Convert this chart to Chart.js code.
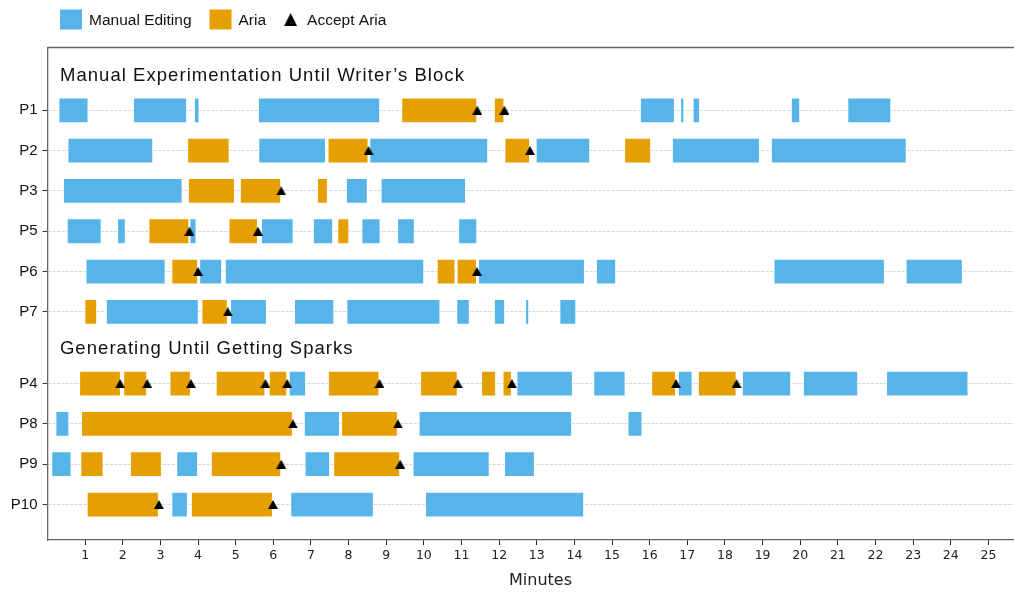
<!DOCTYPE html>
<html>
<head>
<meta charset="utf-8">
<title>Aria usage timeline</title>
<script src="https://cdn.jsdelivr.net/npm/chart.js@4.4.1/dist/chart.umd.min.js"></script>
<style>
  html, body { margin: 0; padding: 0; background: #fff; }
  canvas { display: block; }
</style>
</head>
<body>
<canvas id="timeline" width="1014" height="592"></canvas>
<script>
/* ---- data (minutes) ---- */
const rows = ['P1', 'P2', 'P3', 'P5', 'P6', 'P7', 'P4', 'P8', 'P9', 'P10'];
const rowGroup = [0, 0, 0, 0, 0, 0, 1, 1, 1, 1];
const groupHeadings = ['Manual Experimentation Until Writer\u2019s Block', 'Generating Until Getting Sparks'];
const xTicks = [1, 2, 3, 4, 5, 6, 7, 8, 9, 10, 11, 12, 13, 14, 15, 16, 17, 18, 19, 20, 21, 22, 23, 24, 25];

// one list of [start, end] segments per row, same order as rows
const manualEditing = [
  [[0.29, 1.09], [2.27, 3.71], [3.89, 4.04], [5.59, 8.84], [15.74, 16.67], [16.81, 16.92], [17.14, 17.34], [19.75, 20.00], [21.25, 22.42]],
  [[0.53, 2.81], [5.60, 7.40], [8.55, 11.71], [12.97, 14.42], [16.59, 18.93], [19.22, 22.83]],
  [[0.41, 3.59], [7.93, 8.51], [8.85, 11.12]],
  [[0.51, 1.44], [1.85, 2.08], [3.77, 3.96], [5.67, 6.54], [7.05, 7.59], [8.34, 8.85], [9.29, 9.76], [10.91, 11.42]],
  [[1.01, 3.14], [4.03, 4.64], [4.71, 10.01], [11.44, 14.28], [14.57, 15.11], [19.29, 22.25], [22.80, 24.32]],
  [[1.55, 4.02], [4.85, 5.83], [6.55, 7.62], [7.94, 10.44], [10.86, 11.22], [11.86, 12.16], [12.69, 12.80], [13.60, 14.05]],
  [[6.41, 6.87], [12.46, 13.96], [14.50, 15.36], [16.75, 17.14], [18.45, 19.76], [20.07, 21.54], [22.28, 24.47]],
  [[0.21, 0.58], [6.81, 7.77], [9.86, 13.94], [15.41, 15.81]],
  [[0.10, 0.64], [3.42, 4.00], [6.83, 7.51], [9.70, 11.75], [12.13, 12.95]],
  [[3.29, 3.73], [6.45, 8.67], [10.03, 14.26]]
];

const ariaUse = [
  [[9.40, 11.42], [11.86, 12.14]],
  [[3.71, 4.84], [7.44, 8.53], [12.14, 12.82], [15.32, 16.04]],
  [[3.73, 4.98], [5.11, 6.21], [7.16, 7.45]],
  [[2.68, 3.77], [4.81, 5.59], [7.70, 8.02]],
  [[3.29, 4.00], [10.34, 10.84], [10.87, 11.41]],
  [[0.98, 1.32], [4.09, 4.79]],
  [[0.84, 1.95], [2.01, 2.65], [3.24, 3.81], [4.47, 5.79], [5.88, 6.37], [7.45, 8.82], [9.90, 10.90], [11.52, 11.92], [12.09, 12.34], [16.04, 16.70], [17.28, 18.31]],
  [[0.89, 6.52], [7.80, 9.31]],
  [[0.87, 1.49], [2.19, 3.04], [4.34, 6.21], [7.59, 9.37]],
  [[1.04, 2.96], [3.81, 5.99]]
];

const acceptAria = [
  [11.42, 12.14],
  [8.53, 12.82],
  [6.21],
  [3.77, 5.59],
  [4.00, 11.41],
  [4.79],
  [1.93, 2.65, 3.81, 5.79, 6.37, 8.82, 10.90, 12.34, 16.70, 18.31],
  [6.52, 9.31],
  [6.21, 9.37],
  [2.96, 5.99]
];

/* ---- layout ---- */
const GROUP_GAP = 0.78;      // extra space (in rows) before the second group
const HEADING_LIFT = 0.73;   // heading baseline above first row of its group
const HEADING_X = 0.33;      // minutes
const X_MAX = 25.68;         // visible right edge (the plot is cropped there)
const X_LABEL_AT = 13.1;     // centre of the full, uncropped axis
const BLUE = '#56B4E9';
const ORANGE = '#E69F00';

const rowPos = i => i + rowGroup[i] * GROUP_GAP;

function segmentsToBars(list) {
  const out = [];
  list.forEach((segs, i) => segs.forEach(s => out.push({ x: s, y: rowPos(i) })));
  return out;
}
function marksToPoints(list) {
  const out = [];
  list.forEach((xs, i) => xs.forEach(x => out.push({ x: x, y: rowPos(i) })));
  return out;
}

/* triangle marker as a small canvas so it stays centred on the row */
function triangle(w, h) {
  const c = document.createElement('canvas');
  c.width = w; c.height = h;
  const g = c.getContext('2d');
  g.fillStyle = '#000';
  g.beginPath();
  g.moveTo(w / 2, 0);
  g.lineTo(w, h);
  g.lineTo(0, h);
  g.closePath();
  g.fill();
  return c;
}
const triSmall = triangle(10, 9);
const triLegend = triangle(13, 13);

/* legend, headings, axis label and top spine */
const decorPlugin = {
  id: 'decor',
  afterDraw(chart) {
    const { ctx, chartArea, scales } = chart;
    ctx.save();

    // top spine
    ctx.strokeStyle = '#666';
    ctx.lineWidth = 1.3;
    ctx.beginPath();
    ctx.moveTo(chartArea.left, chartArea.top);
    ctx.lineTo(chartArea.right, chartArea.top);
    ctx.stroke();

    // group headings
    ctx.fillStyle = '#111';
    ctx.font = '18.5px "Liberation Sans", Arial, sans-serif';
    ctx.letterSpacing = '1.05px';
    ctx.textAlign = 'left';
    ctx.textBaseline = 'alphabetic';
    groupHeadings.forEach((h, g) => {
      const first = rowGroup.indexOf(g);
      const y = scales.y.getPixelForValue(rowPos(first) - HEADING_LIFT);
      ctx.fillText(h, scales.x.getPixelForValue(HEADING_X), y);
    });
    ctx.letterSpacing = '0px';

    // x axis label
    ctx.font = '16px "DejaVu Sans", sans-serif';
    ctx.fillStyle = '#222';
    ctx.textAlign = 'center';
    ctx.textBaseline = 'middle';
    ctx.fillText('Minutes', scales.x.getPixelForValue(X_LABEL_AT), 581);

    // legend
    const items = [
      { label: 'Manual Editing', color: BLUE },
      { label: 'Aria', color: ORANGE },
      { label: 'Accept Aria', marker: triLegend }
    ];
    ctx.font = '15.5px "Liberation Sans", Arial, sans-serif';
    ctx.textAlign = 'left';
    ctx.textBaseline = 'middle';
    let x = 60;
    const cy = 19.5;
    items.forEach(it => {
      if (it.marker) {
        ctx.drawImage(it.marker, x, cy - it.marker.height / 2);
        x += it.marker.width + 10;
      } else {
        ctx.fillStyle = it.color;
        ctx.fillRect(x, cy - 10, 22, 20);
        x += 22 + 7;
      }
      ctx.fillStyle = '#111';
      ctx.fillText(it.label, x, cy + 1);
      x += ctx.measureText(it.label).width + 18;
    });

    ctx.restore();
  }
};

const ctx = document.getElementById('timeline').getContext('2d');

new Chart(ctx, {
  type: 'bar',
  data: {
    datasets: [
      {
        type: 'scatter',
        label: 'Accept Aria',
        data: marksToPoints(acceptAria),
        pointStyle: triSmall,
        pointRadius: 5,
        order: 0
      },
      {
        label: 'Manual Editing',
        data: segmentsToBars(manualEditing),
        backgroundColor: BLUE,
        borderColor: 'rgba(255,255,255,0.75)',
        borderWidth: 1,
        borderSkipped: false,
        grouped: false,
        categoryPercentage: 1,
        barPercentage: 0.64,
        order: 1
      },
      {
        label: 'Aria',
        data: segmentsToBars(ariaUse),
        backgroundColor: ORANGE,
        borderColor: 'rgba(255,255,255,0.75)',
        borderWidth: 1,
        borderSkipped: false,
        grouped: false,
        categoryPercentage: 1,
        barPercentage: 0.64,
        order: 1
      }
    ]
  },
  options: {
    responsive: false,
    animation: false,
    indexAxis: 'y',
    layout: { autoPadding: false, padding: { left: 0, right: 0, top: 47.5, bottom: 0 } },
    plugins: {
      legend: { display: false },
      tooltip: { enabled: false }
    },
    scales: {
      x: {
        type: 'linear',
        position: 'bottom',
        min: 0,
        max: X_MAX,
        afterBuildTicks: s => { s.ticks = xTicks.map(v => ({ value: v })); },
        afterFit: s => { s.height = 52; s.paddingLeft = 0; s.paddingRight = 0; },
        grid: { drawOnChartArea: false, tickLength: 5, tickColor: '#222', tickWidth: 1 },
        border: { color: '#666', width: 1.3 },
        ticks: {
          color: '#222',
          padding: 3,
          maxRotation: 0,
          autoSkip: false,
          font: { family: 'DejaVu Sans', size: 12.5 }
        }
      },
      y: {
        type: 'linear',
        reverse: true,
        min: -1.558,
        max: 10.66,
        offset: false,
        afterBuildTicks: s => { s.ticks = rows.map((_, i) => ({ value: rowPos(i) })); },
        afterFit: s => { s.width = 47.5; },
        grid: {
          offset: false,
          color: '#d6d6d6',
          lineWidth: 1,
          tickLength: 5,
          tickColor: '#333',
          tickWidth: 1,
          tickBorderDash: []
        },
        border: { color: '#666', width: 1.3, dash: [3, 1.4] },
        ticks: {
          color: '#111',
          padding: 5,
          autoSkip: false,
          font: { family: 'Liberation Sans', size: 15 },
          callback: (v, i) => rows[i]
        }
      }
    }
  },
  plugins: [decorPlugin]
});
</script>
</body>
</html>
